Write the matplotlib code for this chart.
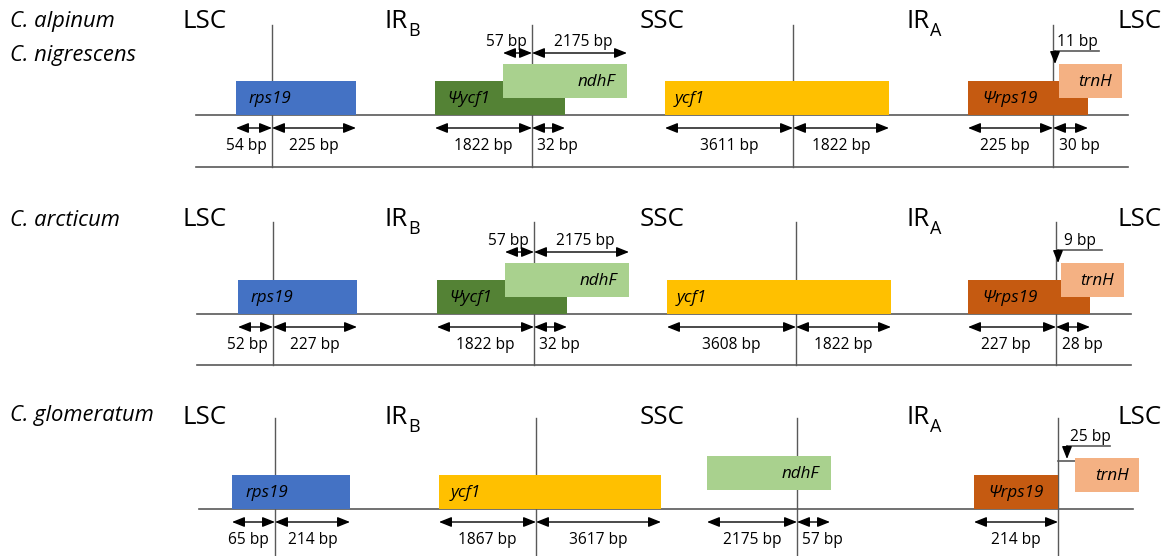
import matplotlib
matplotlib.use("Agg")
from matplotlib import pyplot as plt
from matplotlib.patches import Rectangle

# ---- data ----
species = [["C. alpinum", "C. nigrescens"], ["C. arcticum"], ["C. glomeratum"]]
region_names = ["LSC", "IR", "SSC", "IR", "LSC"]
region_subs = ["", "B", "", "A", ""]

gene_names = [
    ["rps19", "Ψycf1", "ndhF", "ycf1", "Ψrps19", "trnH"],
    ["rps19", "Ψycf1", "ndhF", "ycf1", "Ψrps19", "trnH"],
    ["rps19", "ycf1", "ndhF", "Ψrps19", "trnH"],
]
bp_below = [
    [54, 225, 1822, 32, 3611, 1822, 225, 30],
    [52, 227, 1822, 32, 3608, 1822, 227, 28],
    [65, 214, 1867, 3617, 2175, 57, 214],
]
bp_above = [[57, 2175], [57, 2175], []]
bp_trnh = [11, 9, 25]

gene_colors = {
    "rps19": "#4472C4",
    "Ψycf1": "#548235",
    "ndhF": "#A9D18E",
    "ycf1": "#FFC000",
    "Ψrps19": "#C55A11",
    "trnH": "#F4B183",
}

# ---- layout (pixel coords) ----
W, H = 1165, 556
junction_x = [[272, 532, 793, 1053], [273, 534, 796, 1056], [275, 536, 797, 1058]]
baseline_y = [115, 314, 509]
line_top = [25, 222, 418]
line_bottom = [167, 365, 556]
bottom_rule = [167, 365, None]
species_y = [[22, 55], [220], [416]]
region_x = [205, 400, 662, 922, 1140]

gene_x = [
    [(236, 356), (435, 565), (503, 627), (665, 889), (968, 1088), (1059, 1122)],
    [(238, 357), (437, 567), (505, 629), (667, 891), (968, 1090), (1061, 1124)],
    [(232, 350), (439, 661), (707, 831), (974, 1058), (1075, 1139)],
]
gene_raised = [
    [0, 0, 1, 0, 0, 1],
    [0, 0, 1, 0, 0, 1],
    [0, 0, 1, 0, 1],
]
gene_label_dx = [
    [13, 12, 75, 10, 14, 12],
    [13, 12, 75, 10, 14, 12],
    [14, 12, 75, 14, 20],
]
below_spans = [
    [(236, 272), (272, 356), (435, 532), (532, 565), (665, 793), (793, 889), (968, 1053), (1053, 1088)],
    [(238, 273), (273, 357), (437, 534), (534, 567), (667, 796), (796, 891), (968, 1056), (1056, 1090)],
    [(232, 275), (275, 350), (439, 536), (536, 661), (707, 797), (797, 830), (974, 1058)],
]
below_label_dx = [
    [-8, 0, 0, 9, 0, 0, -6, 9],
    [-8, 0, 0, 9, 0, 0, -6, 9],
    [-5, 0, 0, 0, 0, 9, 0],
]
above_spans = [[(503, 532), (532, 627)], [(505, 534), (534, 629)], []]
above_label_dx = [[-11, 4], [-11, 4], []]

BOX_H = 34
RAISE = 17
PT = 72 / 100  # px -> pt

fig = plt.figure(figsize=(W / 100, H / 100), dpi=100)
ax = fig.add_axes([0, 0, 1, 1])
ax.set_xlim(0, W)
ax.set_ylim(H, 0)
ax.axis("off")

FONT = "Open Sans"
line_col = "#595959"
HEAD = "-|>,head_length=0.75,head_width=0.3"
DHEAD = "<|-|>,head_length=0.75,head_width=0.3"


def double_arrow(x0, x1, y):
    ax.annotate("", xy=(x1, y), xytext=(x0, y),
                arrowprops=dict(arrowstyle=DHEAD, color="black", lw=1.0,
                                mutation_scale=10, shrinkA=0, shrinkB=0))


def down_arrow(x, y0, y1):
    ax.annotate("", xy=(x, y1), xytext=(x, y0),
                arrowprops=dict(arrowstyle=HEAD, color="black", lw=1.0,
                                mutation_scale=10, shrinkA=0, shrinkB=0))


for p in range(3):
    by = baseline_y[p]

    # species names
    for name, sy in zip(species[p], species_y[p]):
        ax.text(10, sy, name, fontsize=22 * PT, style="italic", family=FONT,
                ha="left", va="center")

    # region names
    ty = species_y[p][0] + (2 if p == 2 else 0)
    for i, (rn, rs) in enumerate(zip(region_names, region_subs)):
        if rs:
            ax.text(region_x[i] + 8, ty, rn, fontsize=26 * PT, family=FONT,
                    ha="right", va="center")
            ax.text(region_x[i] + 8, ty + 9, rs, fontsize=18 * PT, family=FONT,
                    ha="left", va="center")
        else:
            ax.text(region_x[i], ty, rn, fontsize=26 * PT, family=FONT,
                    ha="center", va="center")

    # vertical junction lines
    for jx in junction_x[p]:
        ax.plot([jx, jx], [line_top[p], line_bottom[p]], color=line_col, lw=1.0)

    # baseline and bottom rule
    x_left = junction_x[p][0] - 76
    x_right = junction_x[p][3] + 75
    ax.plot([x_left, x_right], [by, by], color=line_col, lw=1.2)
    if bottom_rule[p] is not None:
        ax.plot([x_left, x_right], [bottom_rule[p]] * 2, color=line_col, lw=1.2)

    # gene boxes
    for g, (gx0, gx1), up, ldx in zip(gene_names[p], gene_x[p], gene_raised[p], gene_label_dx[p]):
        y0 = by - BOX_H - (RAISE if up else 0)
        if p == 2 and g == "ndhF":
            y0 = by - BOX_H - 19
        ax.add_patch(Rectangle((gx0, y0), gx1 - gx0, BOX_H, facecolor=gene_colors[g],
                               edgecolor="none", zorder=2 + up))
        if g == "ndhF":
            tx, ha = gx1 - 12, "right"
        elif g == "trnH":
            tx, ha = gx1 - 10, "right"
        else:
            tx, ha = gx0 + ldx, "left"
        ax.text(tx, y0 + BOX_H / 2 + 1, g, fontsize=17 * PT, style="italic",
                family=FONT, ha=ha, va="center", zorder=5)

    # bp arrows below baseline
    for v, (sx0, sx1), dx in zip(bp_below[p], below_spans[p], below_label_dx[p]):
        double_arrow(sx0, sx1, by + 13)
        ax.text((sx0 + sx1) / 2 + dx, by + 31, f"{v} bp", fontsize=15.5 * PT,
                family=FONT, ha="center", va="center")

    # bp arrows above ndhF
    for v, (sx0, sx1), dx in zip(bp_above[p], above_spans[p], above_label_dx[p]):
        double_arrow(sx0, sx1, by - 62)
        ax.text((sx0 + sx1) / 2 + dx, by - 73, f"{v} bp", fontsize=15.5 * PT,
                family=FONT, ha="center", va="center")

    # trnH distance marker
    jx = junction_x[p][3]
    if p < 2:
        hy = by - 64
        ax.plot([jx + 2, jx + 46], [hy, hy], color=line_col, lw=1.2)
        down_arrow(jx + 2, hy, by - BOX_H - RAISE)
        ax.text(jx + 24, hy - 9, f"{bp_trnh[p]} bp", fontsize=15.5 * PT,
                family=FONT, ha="center", va="center")
    else:
        ax.plot([jx, jx + 17], [by - 48, by - 48], color=line_col, lw=1.2)
        hy = by - 63
        ax.plot([jx + 9, jx + 52], [hy, hy], color=line_col, lw=1.2)
        down_arrow(jx + 9, hy, by - 50)
        ax.text(jx + 32, hy - 9, f"{bp_trnh[p]} bp", fontsize=15.5 * PT,
                family=FONT, ha="center", va="center")

fig.savefig("out.png", dpi=100, facecolor="white")
